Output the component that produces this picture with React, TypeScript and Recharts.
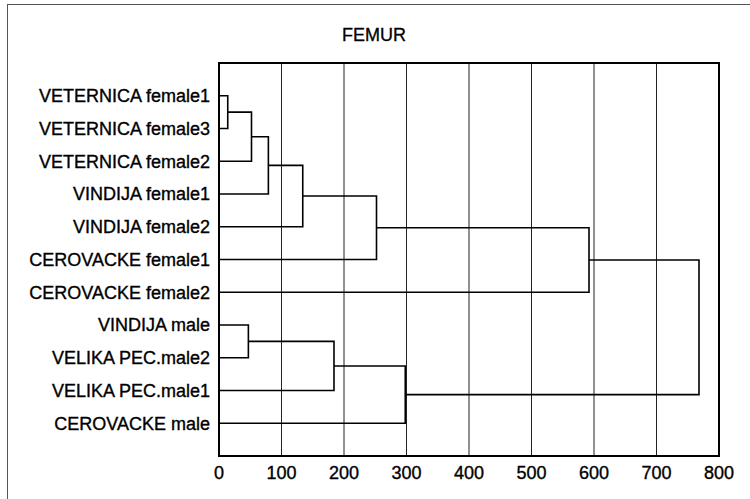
import React from "react";
import { LineChart, Line, XAxis, YAxis, CartesianGrid, ReferenceArea } from "recharts";

const title = "FEMUR";

const leaves = [
  "VETERNICA female1",
  "VETERNICA female3",
  "VETERNICA female2",
  "VINDIJA female1",
  "VINDIJA female2",
  "CEROVACKE female1",
  "CEROVACKE female2",
  "VINDIJA male",
  "VELIKA PEC.male2",
  "VELIKA PEC.male1",
  "CEROVACKE male",
];

// merges: node ids 0..10 are leaves, new clusters get ids 11, 12, ...
const mergeA = [0, 11, 12, 13, 14, 15, 7, 17, 18, 16];
const mergeB = [1, 2, 3, 4, 5, 6, 8, 9, 10, 19];
const mergeHeight = [14, 52, 79, 134, 252, 592, 47, 184, 298, 768];

const xTicks = [0, 100, 200, 300, 400, 500, 600, 700, 800];
const xMinorTicks = [
  25, 50, 75, 125, 150, 175, 225, 250, 275, 325, 350, 375, 425, 450, 475,
  525, 550, 575, 625, 650, 675, 725, 750, 775,
];
const leafTicks = [1, 2, 3, 4, 5, 6, 7, 8, 9, 10, 11];

const nodeX: number[] = leaves.map(() => 0);
const nodeY: number[] = leaves.map((_, i) => i + 1);
const segments = mergeA.map((a, k) => {
  const b = mergeB[k];
  const h = mergeHeight[k];
  const pts = [
    { x: nodeX[a], y: nodeY[a] },
    { x: h, y: nodeY[a] },
    { x: h, y: nodeY[b] },
    { x: nodeX[b], y: nodeY[b] },
  ];
  nodeX.push(h);
  nodeY.push((nodeY[a] + nodeY[b]) / 2);
  return pts;
});

const font = "'Liberation Sans', Arial, sans-serif";
const textStyle = { fill: "#000", fontSize: 18, fontFamily: font, stroke: "#000", strokeWidth: 0.35 };

export default function App() {
  return (
    <div
      style={{
        position: "fixed",
        left: 0,
        top: 0,
        width: 750,
        height: 499,
        background: "#fff",
        overflow: "hidden",
        fontFamily: font,
      }}
    >
      <div
        style={{
          position: "absolute",
          left: 7,
          top: 4,
          width: 780,
          height: 520,
          border: "1.5px solid #555",
        }}
      />
      <div
        style={{
          position: "absolute",
          left: 274,
          top: 24,
          width: 200,
          textAlign: "center",
          fontSize: 18,
          lineHeight: "22px",
          color: "#000",
          WebkitTextStroke: "0.3px #000",
        }}
      >
        {title}
      </div>
      <div style={{ position: "absolute", left: 0, top: 0 }}>
        <LineChart
          width={750}
          height={499}
          margin={{ top: 63, right: 31, bottom: 0, left: 0 }}
          style={{ fontFamily: font }}
        >
          <XAxis
            xAxisId="minor"
            type="number"
            dataKey="x"
            domain={[0, 800]}
            allowDataOverflow
            ticks={xMinorTicks}
            orientation="bottom"
            mirror
            height={0}
            tick={false}
            tickSize={4}
            tickLine={{ stroke: "#000", strokeWidth: 1 }}
            axisLine={false}
          />
          <XAxis
            xAxisId="main"
            type="number"
            dataKey="x"
            domain={[0, 800]}
            allowDataOverflow
            ticks={xTicks}
            interval={0}
            height={43}
            tickSize={0}
            tickMargin={10}
            tickLine={false}
            axisLine={false}
            tick={textStyle}
          />
          <YAxis
            yAxisId="left"
            type="number"
            dataKey="y"
            domain={[0, 12]}
            allowDataOverflow
            reversed
            ticks={leafTicks}
            interval={0}
            width={219}
            tickSize={0}
            tickMargin={9}
            tickLine={false}
            axisLine={false}
            tickFormatter={(v: number) => leaves[v - 1] ?? ""}
            tick={textStyle}
          />
          <YAxis
            yAxisId="right"
            orientation="right"
            type="number"
            domain={[0, 12]}
            allowDataOverflow
            reversed
            ticks={leafTicks}
            interval={0}
            width={0}
            mirror
            tick={false}
            tickSize={4}
            tickLine={{ stroke: "#000", strokeWidth: 1.5 }}
            axisLine={false}
          />
          <CartesianGrid
            xAxisId="main"
            yAxisId="left"
            horizontal={false}
            stroke="#222"
            strokeWidth={1}
          />
          {segments.map((seg, i) => (
            <Line
              key={i}
              xAxisId="main"
              yAxisId="left"
              data={seg}
              dataKey="y"
              type="linear"
              stroke="#000"
              strokeWidth={1.6}
              dot={false}
              activeDot={false}
              isAnimationActive={false}
            />
          ))}
          <ReferenceArea
            xAxisId="main"
            yAxisId="left"
            x1={0}
            x2={800}
            y1={0}
            y2={12}
            fill="none"
            fillOpacity={0}
            stroke="#000"
            strokeWidth={2}
            ifOverflow="visible"
          />
        </LineChart>
      </div>
    </div>
  );
}
